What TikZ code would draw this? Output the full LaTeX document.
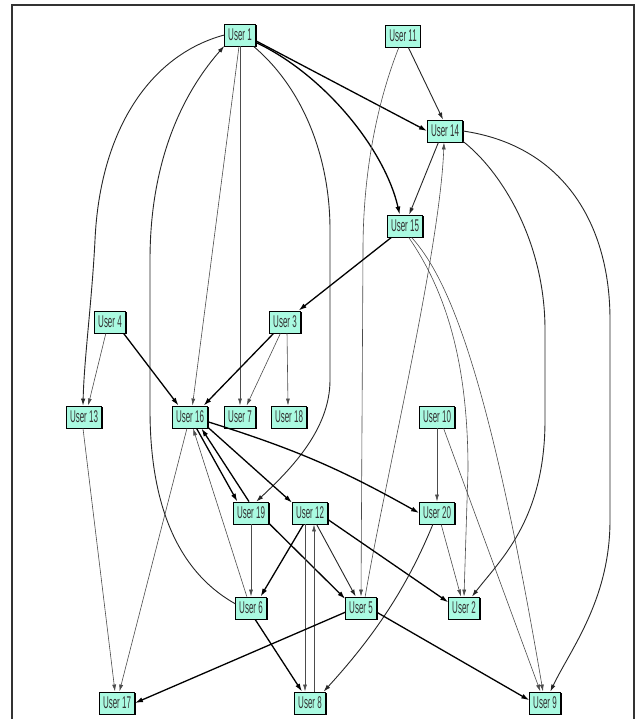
\documentclass[tikz,border=0pt]{standalone}
\usepackage{fontspec}
\setmainfont[FakeStretch=0.47]{Liberation Sans}
\usetikzlibrary{arrows.meta,shadows,calc}
\definecolor{nodefill}{RGB}{170,250,225}
\begin{document}
\begin{tikzpicture}[x=1pt,y=-1pt,
  user/.style={draw=black, line width=0.9pt, fill=nodefill, rectangle,
    minimum height=22pt, inner xsep=3.5pt, inner ysep=0pt,
    text=black!80, font=\fontsize{17}{17}\selectfont,
    drop shadow={shadow xshift=1.3pt, shadow yshift=-1.3pt, opacity=1, fill=black}},
  thinedge/.style={draw=black!70, line width=0.6pt, -{Latex[length=7pt,width=4pt]}},
  midedge/.style={draw=black!85, line width=0.9pt, -{Latex[length=7pt,width=4.5pt]}},
  thickedge/.style={draw=black, line width=1.3pt, -{Latex[length=8pt,width=5pt]}},
  frame/.style={draw=black!80, line width=1.4pt}
]
\useasboundingbox (0,0) rectangle (637,719);
\fill[white] (0,0) rectangle (637,719);
\draw[frame] (12,719) -- (12,5) -- (634,5) -- (634,719);

% nodes
\node[user] (u1)  at (240,35)  {User 1};
\node[user] (u11) at (403,36)  {User 11};
\node[user] (u14) at (445,131) {User 14};
\node[user] (u15) at (405,226) {User 15};
\node[user] (u3)  at (285,322) {User 3};
\node[user] (u4)  at (110,322) {User 4};
\node[user] (u13) at (84,417)  {User 13};
\node[user] (u16) at (190,417) {User 16};
\node[user] (u7)  at (240,417) {User 7};
\node[user] (u18) at (289,417) {User 18};
\node[user] (u10) at (437,417) {User 10};
\node[user] (u19) at (251,513) {User 19};
\node[user] (u12) at (310,513) {User 12};
\node[user] (u20) at (437,513) {User 20};
\node[user] (u6)  at (251,608) {User 6};
\node[user] (u5)  at (361,608) {User 5};
\node[user] (u2)  at (464,608) {User 2};
\node[user] (u17) at (117,703) {User 17};
\node[user] (u8)  at (310,703) {User 8};
\node[user] (u9)  at (545,703) {User 9};

% edges from User 1
\draw[thickedge] (u1.-20) -- (u14.west);
\draw[thickedge] (u1.-25) .. controls (325,75) and (385,150) .. (u15.115);
\draw[midedge] (u1.-40) .. controls (305,90) and (330,160) .. (330,230) -- (330,380) .. controls (330,430) and (290,470) .. (u19.65);
\draw[thinedge] (u1) -- (u7);
\draw[thinedge] (u1.265) -- (u16.78);
\draw[midedge] (u1.west) .. controls (150,55) and (100,130) .. (95,240) .. controls (92,300) and (84,360) .. (u13.95);
\draw[midedge] (u6.165) .. controls (175,570) and (150,500) .. (150,410) -- (150,260) .. controls (150,150) and (190,85) .. (u1.215);

% User 11
\draw[midedge] (u11.-65) -- (u14.100);
\draw[thinedge] (u11.250) .. controls (378,100) and (363,170) .. (363,250) -- (u5.north);

% User 14
\draw[thinedge] (u5.70) .. controls (385,480) and (440,250) .. (u14.-95);
\draw[midedge] (u14.-120) -- (u15.70);
\draw[midedge] (u14.-30) .. controls (500,170) and (545,240) .. (545,330) -- (545,420) .. controls (545,520) and (500,560) .. (u2.55);
\draw[midedge] (u14.east) .. controls (560,145) and (610,220) .. (610,320) -- (610,520) .. controls (610,600) and (570,650) .. (u9.65);

% User 15
\draw[thickedge] (u15.-140) -- (u3.40);
\draw[thinedge] (u15.-72) .. controls (445,290) and (468,360) .. (468,470) -- (u2.north);
\draw[thinedge] (u15.-60) .. controls (450,280) and (490,380) .. (u9.100);

% User 10
\draw[thinedge] (u10.-60) -- (u9.112);
\draw[thinedge] (u10) -- (u20);

% User 3, User 4
\draw[thickedge] (u3.-135) -- (u16.40);
\draw[thinedge] (u3.-112) -- (u7.60);
\draw[thinedge] (u3.-80) -- (u18.95);
\draw[thickedge] (u4.-40) -- (u16.135);
\draw[thinedge] (u4.-110) -- (u13.70);

% User 13, User 16
\draw[thinedge] (u13.-95) -- (u17.100);
\draw[thinedge] (u16.-105) -- (u17.78);
\draw[thinedge] (u6.110) -- (u16.-75);
\draw[thickedge] (u16.-60) -- (u19.140);
\draw[thickedge] (u19.100) -- (u16.-45);
\draw[thickedge] (u16.-30) -- (u12.150);
\draw[thickedge] (u16.-15) to[bend left=6] (u20.west);

% User 19, User 12
\draw[thinedge] (u19) -- (u6);
\draw[thickedge] (u19.-30) -- (u5.150);
\draw[thickedge] (u12.-120) -- (u6.50);
\draw[midedge] (u12.-60) -- (u5.115);
\draw[thickedge] (u12.-20) -- (u2.160);
\draw[thinedge] ([xshift=-5pt]u12.south) -- ([xshift=-5pt]u8.north);
\draw[thinedge] ([xshift=4pt]u8.north) -- ([xshift=4pt]u12.south);

% User 20
\draw[thinedge] (u20.-70) -- (u2.105);
\draw[midedge] (u20.-110) .. controls (410,580) and (380,630) .. (u8.40);

% User 6, User 5
\draw[thickedge] (u6.-70) -- (u8.125);
\draw[thickedge] (u5.-165) -- (u17.east);
\draw[thickedge] (u5.-15) -- (u9.170);
\end{tikzpicture}
\end{document}
